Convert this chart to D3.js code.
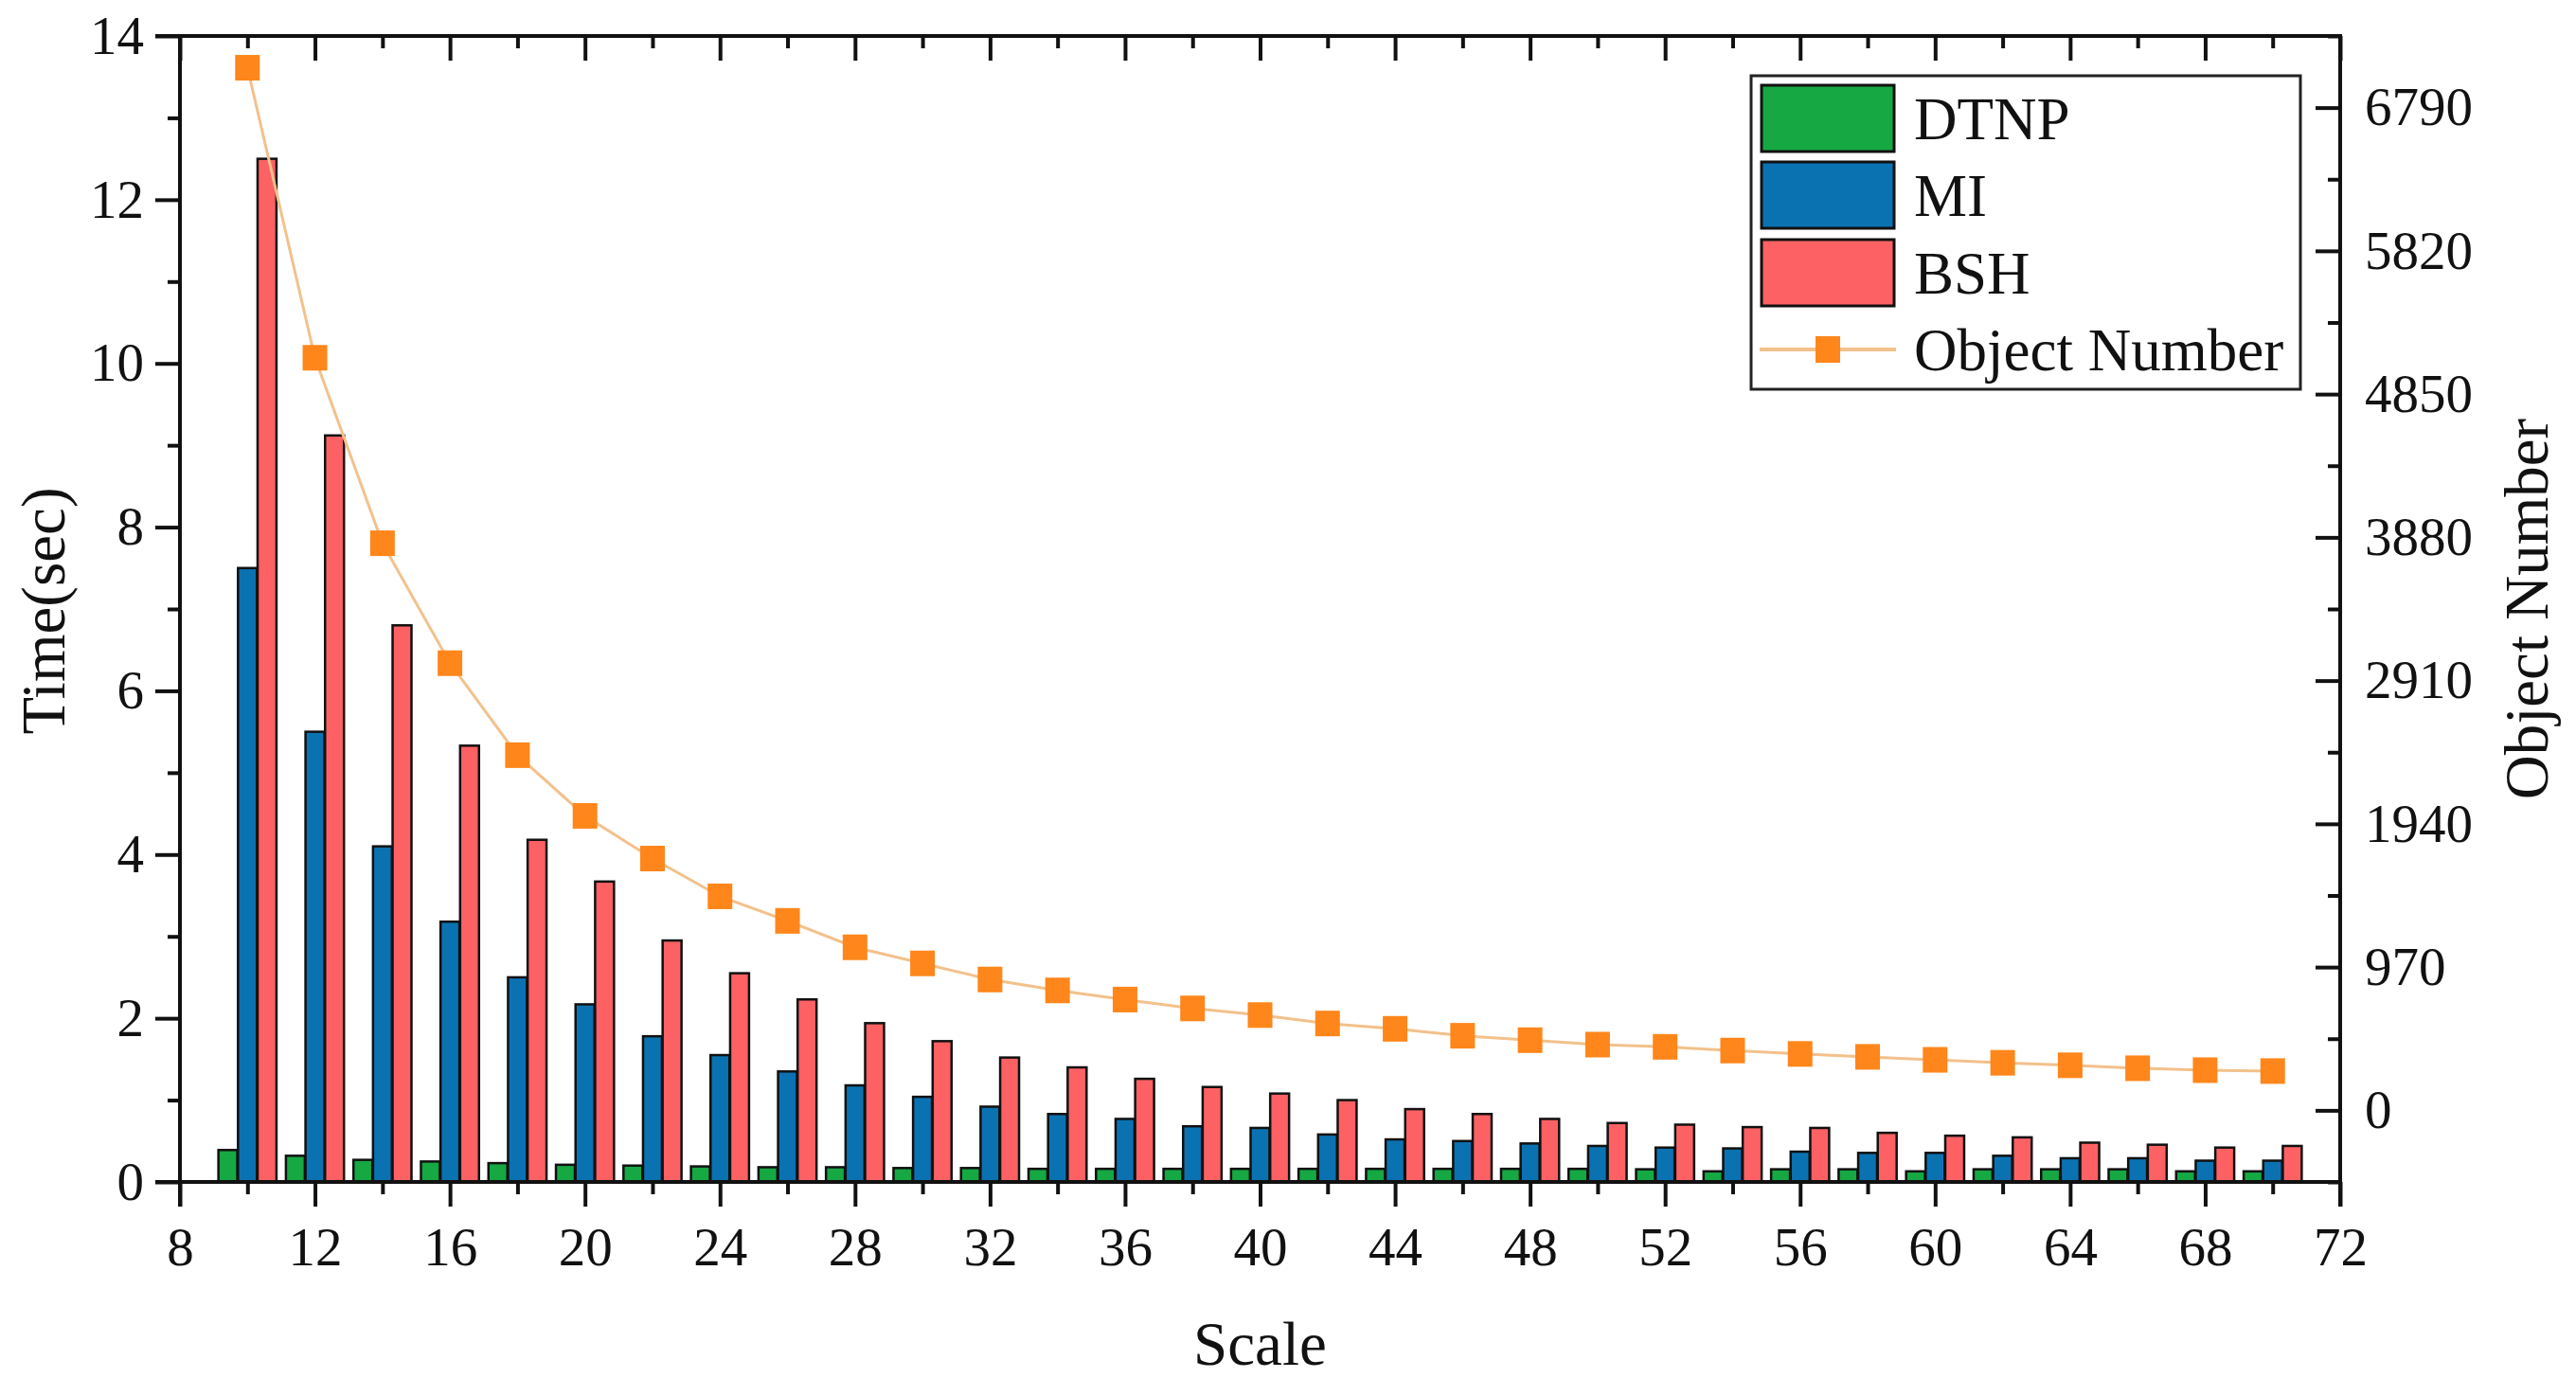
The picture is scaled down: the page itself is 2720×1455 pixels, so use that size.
<!DOCTYPE html>
<html><head><meta charset="utf-8">
<script src="https://cdn.jsdelivr.net/npm/d3@7/dist/d3.min.js"></script>
<style>
html,body{margin:0;padding:0;background:#fff;}
svg{display:block;font-family:"Liberation Serif","Times New Roman",serif;}
</style></head>
<body>
<svg id="chart" width="2720" height="1455"></svg>
<script>
const scales = [10,12,14,16,18,20,22,24,26,28,30,32,34,36,38,40,42,44,46,48,50,52,54,56,58,60,62,64,66,68,70];
const dtnp = [0.39,0.32,0.27,0.25,0.23,0.21,0.20,0.19,0.18,0.18,0.17,0.17,0.16,0.16,0.16,0.16,0.16,0.16,0.16,0.16,0.16,0.155,0.13,0.155,0.155,0.13,0.155,0.155,0.155,0.13,0.13];
const mi = [7.5,5.5,4.1,3.18,2.5,2.17,1.78,1.55,1.35,1.18,1.04,0.92,0.83,0.77,0.68,0.66,0.58,0.52,0.5,0.47,0.44,0.42,0.41,0.37,0.355,0.355,0.32,0.29,0.29,0.26,0.26];
const bsh = [12.5,9.12,6.8,5.33,4.18,3.67,2.95,2.55,2.23,1.94,1.72,1.52,1.40,1.26,1.16,1.08,1.0,0.89,0.83,0.77,0.72,0.70,0.67,0.66,0.60,0.565,0.545,0.48,0.455,0.42,0.44];
const objectNumber = [7060,5096,3840,3028,2405,1994,1705,1449,1283,1104,995,886,812,750,690,645,588,552,505,475,445,430,405,382,362,342,322,305,285,272,266];
const seriesNames = ["DTNP","MI","BSH"];
const lineName = "Object Number";
const xTicksMajor = [8,12,16,20,24,28,32,36,40,44,48,52,56,60,64,68,72];
const yLeftTicks = [0,2,4,6,8,10,12,14];
const yRightTicks = [0,970,1940,2910,3880,4850,5820,6790];

const colors = {DTNP:"#16A843", MI:"#0B72B2", BSH:"#FD6164"};
const markerCol = "#FF861A", lineCol = "#F3C18C";

const L=190, R=2471, T=38, B=1248;
const svg = d3.select("#chart");
const x = d3.scaleLinear().domain([8,72]).range([L,R]);
const yL = d3.scaleLinear().domain([0,14]).range([B,T]);
const yR = d3.scaleLinear().domain([-485,7275]).range([B,T]);

const barW = x(8.56)-x(8);
const offs = {DTNP:-0.58, MI:0, BSH:0.58};
const vals = {DTNP:dtnp, MI:mi, BSH:bsh};

const gBars = svg.append("g");
seriesNames.forEach(s=>{
  gBars.selectAll(null).data(scales.map((d,i)=>({x:d,v:vals[s][i]}))).enter()
    .append("rect")
    .attr("x",d=>x(d.x+offs[s])-barW/2)
    .attr("y",d=>yL(d.v))
    .attr("width",barW)
    .attr("height",d=>yL(0)-yL(d.v))
    .attr("fill",colors[s])
    .attr("stroke","#111")
    .attr("stroke-width",2.5);
});

const pts = scales.map((d,i)=>({x:d,v:objectNumber[i]}));
svg.append("path").datum(pts)
  .attr("d",d3.line().x(d=>x(d.x)).y(d=>yR(d.v)))
  .attr("fill","none").attr("stroke",lineCol).attr("stroke-width",3);
const ms=26;
svg.selectAll(null).data(pts).enter().append("rect")
  .attr("x",d=>x(d.x)-ms/2).attr("y",d=>yR(d.v)-ms/2-0.5)
  .attr("width",ms).attr("height",ms+1).attr("fill",markerCol);

// axes
function styleAxis(g){
  g.select(".domain").remove();
  g.selectAll(".tick line").attr("stroke","#111").attr("stroke-width",4);
  g.selectAll(".tick text").attr("fill","#111").attr("font-size",57).attr("font-family","Liberation Serif, Times New Roman, serif");
}
const minorX = d3.range(10,72,4);
// bottom
svg.append("g").attr("transform",`translate(0,${B})`)
  .call(d3.axisBottom(x).tickValues(xTicksMajor).tickSize(26).tickPadding(22).tickFormat(d3.format("d"))).call(styleAxis);
svg.append("g").attr("transform",`translate(0,${B})`)
  .call(d3.axisBottom(x).tickValues(minorX).tickSize(13).tickFormat("")).call(styleAxis);
// top (inward)
svg.append("g").attr("transform",`translate(0,${T})`)
  .call(d3.axisBottom(x).tickValues(xTicksMajor).tickSize(26).tickFormat("")).call(styleAxis);
svg.append("g").attr("transform",`translate(0,${T})`)
  .call(d3.axisBottom(x).tickValues(minorX).tickSize(13).tickFormat("")).call(styleAxis);
// left
svg.append("g").attr("transform",`translate(${L},0)`)
  .call(d3.axisLeft(yL).tickValues(yLeftTicks).tickSize(26).tickPadding(12).tickFormat(d3.format("d"))).call(styleAxis);
svg.append("g").attr("transform",`translate(${L},0)`)
  .call(d3.axisLeft(yL).tickValues(d3.range(1,14,2)).tickSize(13).tickFormat("")).call(styleAxis);
// right (ticks inward)
svg.append("g").attr("transform",`translate(${R},0)`)
  .call(d3.axisLeft(yR).tickValues(yRightTicks).tickSize(26).tickFormat("")).call(styleAxis);
svg.append("g").attr("transform",`translate(${R},0)`)
  .call(d3.axisLeft(yR).tickValues(d3.range(-485,7276,970)).tickSize(13).tickFormat("")).call(styleAxis);
svg.append("g").attr("transform",`translate(${R},0)`)
  .call(d3.axisRight(yR).tickValues(yRightTicks).tickSize(0).tickPadding(26).tickFormat(d3.format("d"))).call(styleAxis);

// frame lines
const fr = svg.append("g").attr("stroke","#111").attr("stroke-width",4).attr("fill","none");
fr.append("line").attr("x1",L-26).attr("x2",R+2).attr("y1",T).attr("y2",T);
fr.append("line").attr("x1",L-26).attr("x2",R+2).attr("y1",B).attr("y2",B);
fr.append("line").attr("x1",L).attr("x2",L).attr("y1",T-2).attr("y2",B+26);
fr.append("line").attr("x1",R).attr("x2",R).attr("y1",T-2).attr("y2",B+26);

// titles
const tf = "Liberation Serif, Times New Roman, serif";
svg.append("text").attr("x",(L+R)/2).attr("y",1441).attr("text-anchor","middle")
  .attr("font-size",65).attr("font-family",tf).attr("fill","#111").text("Scale");
svg.append("text").attr("transform",`translate(68,${(T+B)/2+2}) rotate(-90)`).attr("text-anchor","middle")
  .attr("font-size",65).attr("font-family",tf).attr("fill","#111").text("Time(sec)");
svg.append("text").attr("transform",`translate(2690,${(T+B)/2}) rotate(-90)`).attr("text-anchor","middle")
  .attr("font-size",65).attr("font-family",tf).attr("fill","#111").text(lineName);

// legend
const lg = svg.append("g");
lg.append("rect").attr("x",1849).attr("y",80).attr("width",580).attr("height",331)
  .attr("fill","#fff").attr("stroke","#222").attr("stroke-width",3);
const rowY = [125,206,288,369];
seriesNames.forEach((s,i)=>{
  lg.append("rect").attr("x",1860).attr("y",rowY[i]-35).attr("width",140).attr("height",70)
    .attr("fill",colors[s]).attr("stroke","#111").attr("stroke-width",3);
  lg.append("text").attr("x",2021).attr("y",rowY[i]+22).attr("font-size",63).attr("font-family",tf)
    .attr("fill","#111").text(s);
});
lg.append("line").attr("x1",1858).attr("x2",2002).attr("y1",rowY[3]).attr("y2",rowY[3])
  .attr("stroke",lineCol).attr("stroke-width",4);
lg.append("rect").attr("x",1930-13).attr("y",rowY[3]-14).attr("width",26).attr("height",28).attr("fill",markerCol);
lg.append("text").attr("x",2021).attr("y",rowY[3]+22).attr("font-size",63).attr("font-family",tf)
  .attr("fill","#111").text(lineName);
</script>
</body></html>
